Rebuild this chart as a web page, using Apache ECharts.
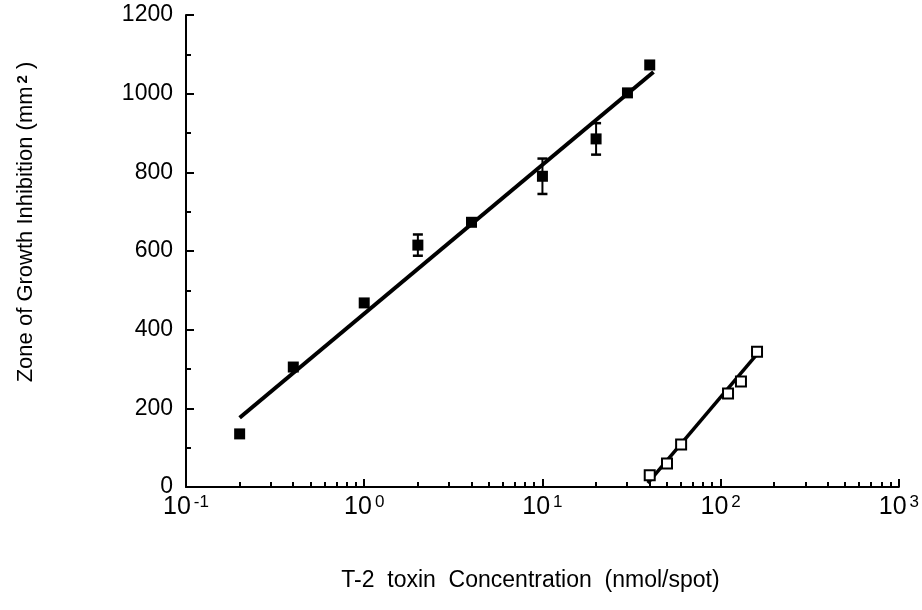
<!DOCTYPE html>
<html>
<head>
<meta charset="utf-8">
<script src="https://cdn.jsdelivr.net/npm/echarts@6/dist/echarts.min.js"></script>
<style>
html,body{margin:0;padding:0;background:#fff;}
#chart{width:922px;height:610px;}
</style>
</head>
<body>
<div id="chart"></div>
<script>
// Filled squares (series A)
const concA = [0.2, 0.4, 1, 2, 4, 10, 20, 30, 40];
const zoneA = [135, 305, 468, 615, 673, 790, 885, 1002, 1073];
const errA  = [0, 0, 0, 27, 0, 45, 40, 0, 0];
// Regression line A (endpoints)
const fitAx = [0.2, 42];
const fitAy = [176, 1055];
// Open squares (series B)
const concB = [40, 50, 60, 110, 130, 160];
const zoneB = [30, 60, 108, 238, 268, 344];
// Regression line B (endpoints)
const fitBx = [39, 165];
const fitBy = [10, 345];
// Axis ticks
const yTicks = [0, 200, 400, 600, 800, 1000, 1200];
const xMinorTicks = [0.2,0.3,0.4,0.5,0.6,0.7,0.8,0.9, 2,3,4,5,6,7,8,9, 20,30,40,50,60,70,80,90, 200,300,400,500,600,700,800,900];

const FONT = 'Liberation Sans, Arial, Helvetica, sans-serif';
const chart = echarts.init(document.getElementById('chart'), null, {renderer: 'canvas'});

const option = {
  animation: false,
  backgroundColor: '#fff',
  grid: {left: 186, right: 23, top: 15, bottom: 123},
  xAxis: {
    type: 'log', logBase: 10, min: 0.1, max: 1000,
    name: 'T-2  toxin  Concentration  (nmol/spot)',
    nameLocation: 'middle', nameGap: 82,
    nameTextStyle: {fontFamily: FONT, fontSize: 23, color: '#000', padding: [0, 24, 0, 0]},
    axisLine: {show: true, onZero: false, lineStyle: {color: '#000', width: 2}},
    axisTick: {show: true, inside: true, length: 8, lineStyle: {color: '#000', width: 2}},
    minorTick: {show: false},
    splitLine: {show: false},
    axisLabel: {
      margin: 7,
      formatter: function (v) {
        const e = Math.round(Math.log10(v));
        return '{b|10}{e|' + e + '}';
      },
      rich: {
        b: {fontFamily: FONT, fontSize: 25, color: '#000', lineHeight: 27},
        e: {fontFamily: FONT, fontSize: 17, color: '#000', verticalAlign: 'top', lineHeight: 17, padding: [0, 0, 0, 3]}
      }
    }
  },
  yAxis: {
    type: 'value', min: 0, max: 1200, interval: 200,
    axisLine: {show: true, onZero: false, lineStyle: {color: '#000', width: 2}},
    axisTick: {show: true, inside: true, length: 8, lineStyle: {color: '#000', width: 2}},
    minorTick: {show: true, splitNumber: 2, length: 5, lineStyle: {color: '#000', width: 2}},
    splitLine: {show: false},
    axisLabel: {margin: 13, fontFamily: FONT, fontSize: 23, color: '#000', formatter: v => String(v)}
  },
  graphic: [{
    type: 'text', x: 26, y: 222, rotation: Math.PI / 2,
    style: {
      text: 'Zone of Growth Inhibition (mm{s|2} )',
      fontFamily: FONT, fontSize: 22, fill: '#000',
      align: 'center', verticalAlign: 'middle',
      rich: {s: {fontFamily: FONT, fontSize: 15, fontWeight: 'bold', fill: '#000', verticalAlign: 'top', lineHeight: 15, padding: [0, 0, 0, 3]}}
    }
  }],
  series: [
    {
      type: 'custom', silent: true, z: 5,
      renderItem: function (params, api) {
        const p = api.coord([api.value(0), 0]);
        const x = Math.round(p[0]);
        return {type: 'line', shape: {x1: x, y1: p[1], x2: x, y2: p[1] - 5},
                style: {stroke: '#000', lineWidth: 2}};
      },
      data: xMinorTicks.map(v => [v, 0])
    },
    {
      type: 'line', data: fitAx.map((x, i) => [x, fitAy[i]]),
      showSymbol: false, symbol: 'none', lineStyle: {color: '#000', width: 4, opacity: 1}, z: 3
    },
    {
      type: 'line', data: fitBx.map((x, i) => [x, fitBy[i]]),
      showSymbol: false, symbol: 'none', lineStyle: {color: '#000', width: 3.5, opacity: 1}, z: 3
    },
    {
      type: 'custom', silent: true, z: 4,
      renderItem: function (params, api) {
        const x = api.value(0), y = api.value(1), e = api.value(2);
        const t = api.coord([x, y + e]);
        const b = api.coord([x, y - e]);
        const w = 5;
        return {type: 'group', children: [
          {type: 'line', shape: {x1: t[0], y1: t[1], x2: b[0], y2: b[1]}, style: {stroke: '#000', lineWidth: 2}},
          {type: 'line', shape: {x1: t[0] - w, y1: t[1], x2: t[0] + w, y2: t[1]}, style: {stroke: '#000', lineWidth: 2.5}},
          {type: 'line', shape: {x1: b[0] - w, y1: b[1], x2: b[0] + w, y2: b[1]}, style: {stroke: '#000', lineWidth: 2.5}}
        ]};
      },
      data: concA.map((x, i) => [x, zoneA[i], errA[i]]).filter(d => d[2] > 0)
    },
    {
      type: 'scatter', symbol: 'rect', symbolSize: 11, z: 6,
      itemStyle: {color: '#000', opacity: 1},
      data: concA.map((x, i) => [x, zoneA[i]])
    },
    {
      type: 'scatter', symbol: 'rect', symbolSize: 10, z: 6,
      itemStyle: {color: '#fff', borderColor: '#000', borderWidth: 2, opacity: 1},
      data: concB.map((x, i) => [x, zoneB[i]])
    }
  ]
};
chart.setOption(option);
</script>
</body>
</html>
